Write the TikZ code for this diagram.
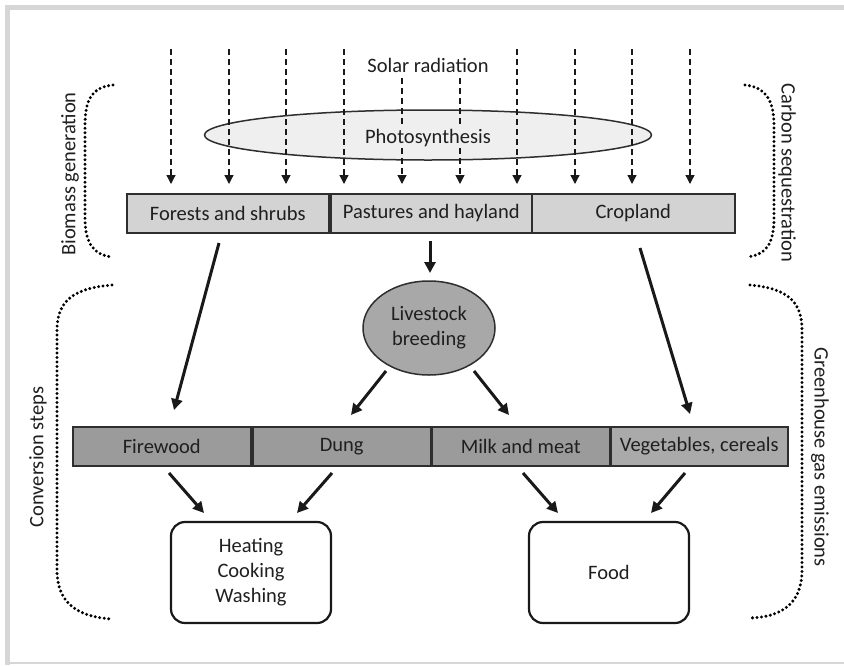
\documentclass[tikz,border=0pt]{standalone}
\usepackage{fontspec}
\setmainfont{Carlito}
\usetikzlibrary{arrows.meta,shapes.geometric}
\definecolor{topfill}{HTML}{D3D3D3}
\definecolor{midfill}{HTML}{9B9B9B}
\definecolor{vegfill}{HTML}{AAAAAA}
\definecolor{ellfill}{HTML}{EFEFEF}
\definecolor{livefill}{HTML}{A8A8A8}
\definecolor{edge}{HTML}{2E2E2E}
\definecolor{frame}{HTML}{D6D6D6}
\tikzset{
  txt/.style={font=\fontsize{20.5}{25}\selectfont, text=black!88},
  bar/.style={txt, draw=edge, line width=1.5pt, minimum height=39pt, inner sep=0pt, anchor=north west},
  topbar/.style={bar, fill=topfill},
  midbar/.style={bar, fill=midfill},
  vegbar/.style={bar, fill=vegfill},
  endbox/.style={txt, draw=black!90, line width=2.2pt, rounded corners=14pt, minimum width=160pt, minimum height=101pt, align=center, inner sep=0pt},
  sunray/.style={draw=black!90, line width=1.3pt, dash pattern=on 6pt off 4pt, -{Triangle[width=9pt,length=9pt]}},
  flow/.style={draw=black!90, line width=3pt, -{Triangle[width=11pt,length=11pt]}, shorten >=0pt},
  brace/.style={draw=black, line width=3.3pt, line cap=round, dash pattern=on 0pt off 4.5pt},
  side/.style={txt, inner sep=0pt}
}
\begin{document}
\begin{tikzpicture}[x=1pt,y=-1pt]
\useasboundingbox (0,0) rectangle (844,665);
% frame
\draw[frame, line width=5pt] (7.5,665) -- (7.5,7.5) -- (844,7.5);
\draw[frame, line width=2pt] (7.5,663) -- (844,663);

% solar text and photosynthesis ellipse
\node[txt] (solar) at (428,65) {Solar radiation};
\node[txt, ellipse, draw=edge, line width=1.5pt, fill=ellfill, minimum width=447pt, minimum height=50pt, inner sep=0pt] (photo) at (428,135) {};

% rays
\foreach \i/\xx/\yy in {1/171/49,2/229/49,3/286/49,4/344/49,5/402/78,6/460/78,7/517/49,8/575/49,9/632/49,10/690/49}{
  \coordinate (rs\i) at (\xx,\yy);
  \coordinate (re\i) at (\xx,184);
  \draw[sunray] (rs\i) -- (re\i);
}
\node[txt, fill=ellfill, inner xsep=2pt, inner ysep=1pt] (phototext) at (428,138) {Photosynthesis};

% top bar
\node[topbar, minimum width=202pt] (forest) at (126,193) {Forests and shrubs};
\node[topbar, minimum width=201pt] (pasture) at (330,193) {Pastures and hayland};
\node[topbar, minimum width=203pt] (crop) at (531,193) {Cropland};

% livestock
\node[txt, ellipse, draw=edge, line width=1.5pt, fill=livefill, minimum width=132pt, minimum height=94pt, inner sep=0pt, align=center] (live) at (429,328) {Livestock\\breeding};

% bottom bar
\node[midbar, minimum width=178pt] (fire) at (72,426) {Firewood};
\node[midbar, minimum width=178pt] (dung) at (252,426) {Dung};
\node[midbar, minimum width=178pt] (milk) at (431,426) {Milk and meat};
\node[vegbar, minimum width=177pt] (veg) at (610,426) {Vegetables, cereals};

% end boxes
\node[endbox] (heat) at (251,572.5) {Heating\\Cooking\\Washing};
\node[endbox] (food) at (609,572.5) {Food};

% flows
\coordinate (f1s) at (219,243); \coordinate (f1e) at (174,410);
\draw[flow] (f1s) -- (f1e);
\coordinate (f2s) at (430,241); \coordinate (f2e) at (430,273);
\draw[flow] (f2s) -- (f2e);
\coordinate (f3s) at (640,248); \coordinate (f3e) at (690,414);
\draw[flow] (f3s) -- (f3e);
\coordinate (f4s) at (386,371); \coordinate (f4e) at (351,415);
\draw[flow] (f4s) -- (f4e);
\coordinate (f5s) at (474,371); \coordinate (f5e) at (509,415);
\draw[flow] (f5s) -- (f5e);
\coordinate (f6s) at (169,473); \coordinate (f6e) at (204,513);
\draw[flow] (f6s) -- (f6e);
\coordinate (f7s) at (332,473); \coordinate (f7e) at (297,513);
\draw[flow] (f7s) -- (f7e);
\coordinate (f8s) at (523,473); \coordinate (f8e) at (558,513);
\draw[flow] (f8s) -- (f8e);
\coordinate (f9s) at (685,473); \coordinate (f9e) at (651,513);
\draw[flow] (f9s) -- (f9e);

% brackets
\draw[brace] (113,85) .. controls (92,87) and (85,100) .. (85,125) -- (85,218) .. controls (85,245) and (95,255) .. (112,257);
\draw[brace] (112,285) .. controls (75,288) and (57,300) .. (57,330) -- (57,570) .. controls (57,605) and (80,617) .. (112,619);
\draw[brace] (745,85) .. controls (765,87) and (774,100) .. (774,125) -- (774,218) .. controls (774,245) and (765,255) .. (747,257);
\draw[brace] (750,285) .. controls (785,288) and (802,300) .. (802,330) -- (802,570) .. controls (802,605) and (780,617) .. (750,618);

% side labels
\node[side, rotate=90] (biomass) at (70,174) {Biomass generation};
\node[side, rotate=90] (conv) at (38,457) {Conversion steps};
\node[side, rotate=-90] (carbon) at (787,173) {Carbon sequestration};
\node[side, rotate=-90] (ghg) at (820,457) {Greenhouse gas emissions};
\end{tikzpicture}
\end{document}
